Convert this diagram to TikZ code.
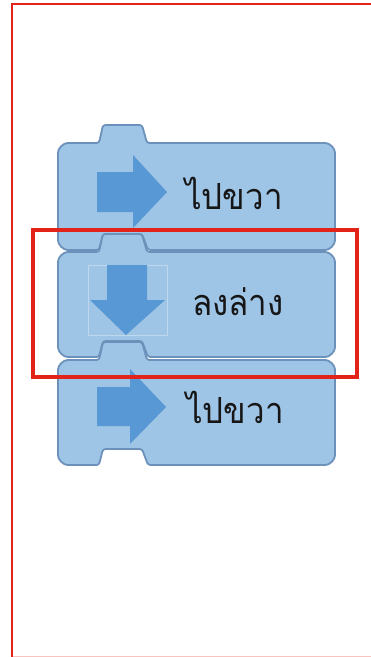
\documentclass[tikz,border=0pt]{standalone}
\usepackage{fontspec}
\newfontfamily\thaifont[Script=Thai]{Loma}
\definecolor{blockfill}{RGB}{158,196,230}
\definecolor{blockedge}{RGB}{108,146,188}
\definecolor{arrowblue}{RGB}{88,152,212}
\definecolor{framered}{RGB}{226,35,26}
\definecolor{framepink}{RGB}{248,196,192}
\definecolor{textdark}{RGB}{22,22,22}
\tikzset{
  blockstyle/.style={fill=blockfill, draw=blockedge, line width=1.8pt, line join=round, rounded corners=2.5pt},
  arrowstyle/.style={fill=arrowblue, draw=none},
  label/.style={font=\thaifont\fontsize{36pt}{40pt}\selectfont, text=textdark, inner sep=0pt, anchor=base west, xscale=0.92},
}
\newcommand\codeblock[2]{%
  \filldraw[blockstyle] (58,#1+12) arc[start angle=180,end angle=270,radius=12]
    -- (99,#1) -- (103,#1-18) -- (142,#1-18) -- (147,#1) -- (323,#1)
    arc[start angle=270,end angle=360,radius=12] -- (335,#2-12)
    arc[start angle=0,end angle=90,radius=12] -- (148,#2) -- (142,#2-16)
    -- (103,#2-16) -- (99,#2) -- (70,#2)
    arc[start angle=90,end angle=180,radius=12] -- cycle;}
\begin{document}
\begin{tikzpicture}[x=1pt,y=-1pt]
\useasboundingbox (0,0) rectangle (371,657);
% outer frame
\draw[framepink, line width=1pt] (12,656.5) -- (371,656.5);
\draw[framered, line width=2pt] (12,657) -- (12,4) -- (371,4);
% blocks
\codeblock{143}{250}
\codeblock{252}{357}
\codeblock{360}{465}
% arrows
\fill[arrowstyle] (97,172) -- (133,172) -- (133,155) -- (167,192) -- (133,228) -- (133,212) -- (97,212) -- cycle;
\draw[white, opacity=0.35, line width=0.6pt] (88,265) rectangle (167,335);
\fill[arrowstyle] (107,265) -- (147,265) -- (147,300) -- (165,300) -- (126,335) -- (90,300) -- (107,300) -- cycle;
\fill[arrowstyle] (97,387) -- (130,387) -- (130,369) -- (166,407) -- (130,444) -- (130,426) -- (97,426) -- cycle;
% labels
\node[label] (t1) at (185,209) {ไปขวา};
\node[label] (t2) at (192,315) {ลงล่าง};
\node[label] (t3) at (186,423) {ไปขวา};
% highlight
\draw[framered, line width=3.5pt] (33,230) rectangle (357,377);
\end{tikzpicture}
\end{document}
